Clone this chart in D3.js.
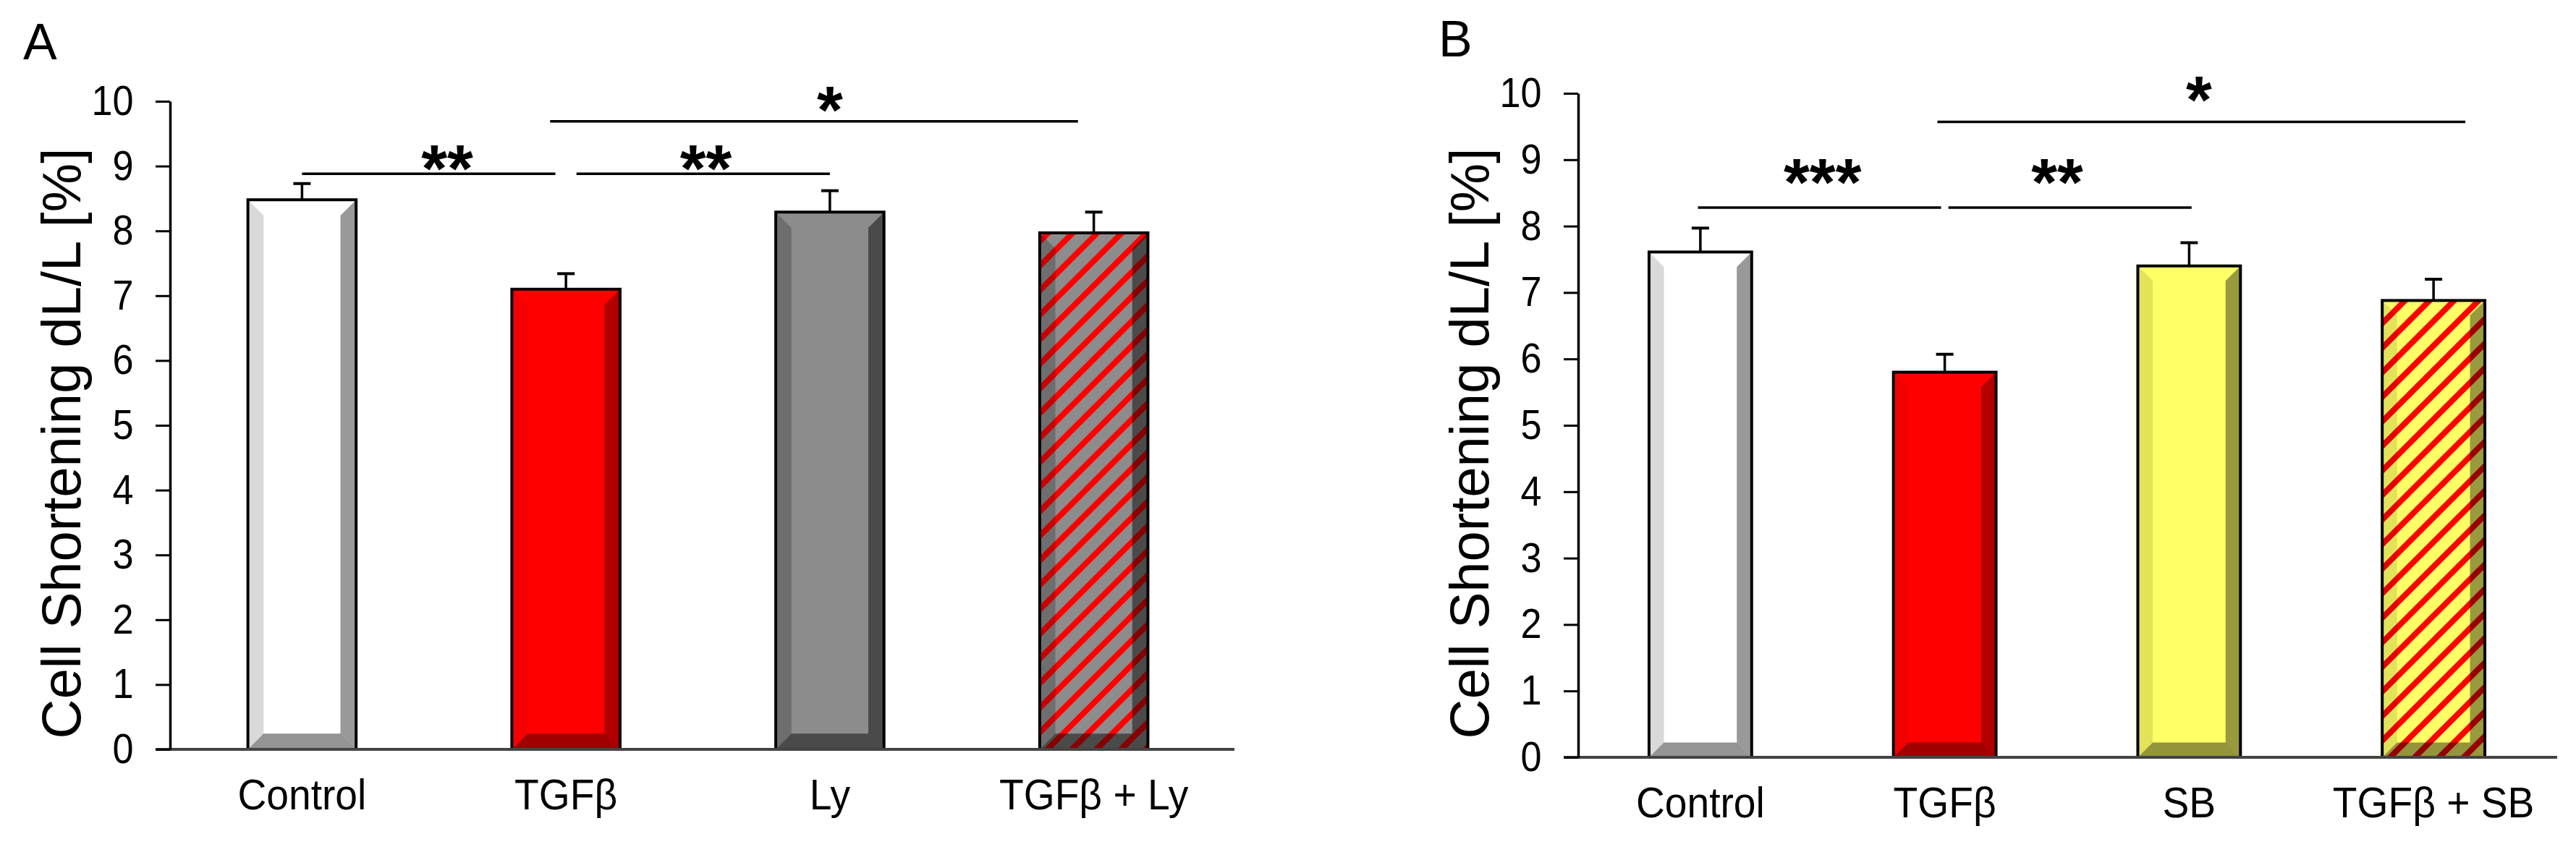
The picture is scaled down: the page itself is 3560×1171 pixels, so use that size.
<!DOCTYPE html>
<html>
<head>
<meta charset="utf-8">
<script src="https://cdn.jsdelivr.net/npm/d3@7"></script>
<style>
  body { margin: 0; background: #fff; }
  text { font-family: "Liberation Sans", Arial, sans-serif; fill: #000; }
</style>
</head>
<body>
<div id="chart"></div>
<script>
// --- data ---
const yTicks = [0, 1, 2, 3, 4, 5, 6, 7, 8, 9, 10];
const yTitle = "Cell Shortening dL/L [%]";

const categoriesA = ["Control", "TGFβ", "Ly", "TGFβ + Ly"];
const meansA = [8.48, 7.10, 8.29, 7.97];
const semA = [0.25, 0.24, 0.33, 0.32];
// comparisons: [from index, to index, line value, label, label index, label value]
const compsA = [
  [0.0, 0.96, 8.88, "**", 0.55, 9.19],
  [1.04, 2.0, 8.88, "**", 1.53, 9.19],
  [0.94, 2.94, 9.69, "*", 2.0, 10.09]
];

const categoriesB = ["Control", "TGFβ", "SB", "TGFβ + SB"];
const meansB = [7.61, 5.80, 7.40, 6.88];
const semB = [0.36, 0.27, 0.35, 0.32];
const compsB = [
  [-0.01, 0.985, 8.28, "***", 0.5, 8.88],
  [1.015, 2.01, 8.28, "**", 1.46, 8.88],
  [0.97, 3.13, 9.57, "*", 2.04, 10.13]
];

// --- bar styles ---
const facesA = ["#ffffff", "#ff0000", "#8c8c8c", "#8c8c8c"];
const hatchA = [false, false, false, true];
const facesB = ["#ffffff", "#ff0000", "#ffff66", "#ffff66"];
const hatchB = [false, false, false, true];
// black overlay opacity for left / right / bottom bevels
const bevelA = [[0.15, 0.4, 0.42], [0.04, 0.3, 0.37], [0.21, 0.47, 0.47], [0.21, 0.47, 0.47]];
const bevelB = [[0.15, 0.4, 0.42], [0.04, 0.3, 0.37], [0.11, 0.4, 0.42], [0.11, 0.4, 0.42]];

const svg = d3.select("#chart").append("svg")
  .attr("width", 3560)
  .attr("height", 1171);

const defs = svg.append("defs");
const pat = defs.append("pattern")
  .attr("id", "hatch")
  .attr("patternUnits", "userSpaceOnUse")
  .attr("width", 24)
  .attr("height", 24)
  .attr("patternTransform", "rotate(45)");
pat.append("rect")
  .attr("x", 0).attr("y", 0)
  .attr("width", 8).attr("height", 24)
  .attr("fill", "#ff0000");

function drawPanel(p) {
  const g = svg.append("g");

  const x = d3.scaleBand()
    .domain(p.categories)
    .range([p.left, p.right])
    .paddingInner(p.pad)
    .paddingOuter(p.pad / 2);
  const y = d3.scaleLinear()
    .domain([0, 10])
    .range([p.bottom, p.top]);
  const xi = i => x(p.categories[0]) + x.bandwidth() / 2 + i * x.step();

  const bars = p.categories.map((c, i) => ({
    cat: c, mean: p.means[i], sem: p.sem[i],
    face: p.faces[i], hatch: p.hatch[i], bevel: p.bevel[i]
  }));

  const bw = x.bandwidth();
  const b = bw * 0.145;

  const bg = g.selectAll(".bar").data(bars).join("g").attr("class", "bar");
  bg.append("rect")
    .attr("x", d => x(d.cat)).attr("y", d => y(d.mean))
    .attr("width", bw).attr("height", d => y(0) - y(d.mean))
    .attr("fill", d => d.face);
  bg.filter(d => d.hatch).append("rect")
    .attr("x", d => x(d.cat)).attr("y", d => y(d.mean))
    .attr("width", bw).attr("height", d => y(0) - y(d.mean))
    .attr("fill", "url(#hatch)");
  // left bevel
  bg.append("polygon")
    .attr("points", d => {
      const x0 = x(d.cat), t = y(d.mean), y1 = y(0);
      return [[x0, t], [x0 + b, t + b], [x0 + b, y1 - b], [x0, y1]].join(" ");
    })
    .attr("fill", "#000").attr("fill-opacity", d => d.bevel[0]);
  // right bevel
  bg.append("polygon")
    .attr("points", d => {
      const x1 = x(d.cat) + bw, t = y(d.mean), y1 = y(0);
      return [[x1, t], [x1 - b, t + b], [x1 - b, y1 - b], [x1, y1]].join(" ");
    })
    .attr("fill", "#000").attr("fill-opacity", d => d.bevel[1]);
  // bottom bevel
  bg.append("polygon")
    .attr("points", d => {
      const x0 = x(d.cat), x1 = x0 + bw, y1 = y(0);
      return [[x0, y1], [x0 + b, y1 - b], [x1 - b, y1 - b], [x1, y1]].join(" ");
    })
    .attr("fill", "#000").attr("fill-opacity", d => d.bevel[2]);
  bg.append("rect")
    .attr("x", d => x(d.cat)).attr("y", d => y(d.mean))
    .attr("width", bw).attr("height", d => y(0) - y(d.mean))
    .attr("fill", "none").attr("stroke", "#000").attr("stroke-width", 4);

  // error bars
  bg.append("line")
    .attr("x1", d => x(d.cat) + bw / 2).attr("x2", d => x(d.cat) + bw / 2)
    .attr("y1", d => y(d.mean)).attr("y2", d => y(d.mean + d.sem))
    .attr("stroke", "#000").attr("stroke-width", 3.5);
  bg.append("line")
    .attr("x1", d => x(d.cat) + bw / 2 - 12).attr("x2", d => x(d.cat) + bw / 2 + 12)
    .attr("y1", d => y(d.mean + d.sem)).attr("y2", d => y(d.mean + d.sem))
    .attr("stroke", "#000").attr("stroke-width", 4);

  // x axis
  const xAxis = g.append("g")
    .attr("transform", `translate(0,${p.bottom})`)
    .call(d3.axisBottom(x).tickSize(0).tickPadding(40));
  xAxis.select(".domain").remove();
  xAxis.selectAll("text")
    .attr("font-size", 60)
    .attr("font-family", "Liberation Sans, Arial, sans-serif")
    .attr("fill", "#111")
    .attr("transform", "scale(0.92,1)");
  g.append("line")
    .attr("x1", p.left - 20).attr("x2", p.right + p.axisExtra)
    .attr("y1", y(0)).attr("y2", y(0))
    .attr("stroke", "#444").attr("stroke-width", 4);

  // y axis
  const yAxis = g.append("g")
    .attr("transform", `translate(${p.left},0)`)
    .call(d3.axisLeft(y).tickValues(yTicks).tickSize(20).tickSizeOuter(0).tickPadding(36));
  yAxis.select(".domain").attr("stroke", "#000").attr("stroke-width", 3.5);
  yAxis.selectAll(".tick line").attr("stroke", "#000").attr("stroke-width", 3);
  yAxis.selectAll("text")
    .attr("font-size", 58)
    .attr("font-family", "Liberation Sans, Arial, sans-serif")
    .attr("fill", "#111")
    .attr("transform", "scale(0.9,1)");

  // y title
  g.append("text")
    .attr("transform", `translate(${p.left - 124},${(p.top + p.bottom) / 2 + 25}) rotate(-90)`)
    .attr("text-anchor", "middle")
    .attr("font-size", 76)
    .text(yTitle);

  // panel letter
  g.append("text")
    .attr("x", p.letterX).attr("y", p.letterY)
    .attr("font-size", 70)
    .text(p.letter);

  // significance brackets
  const cg = g.selectAll(".comp").data(p.comps).join("g").attr("class", "comp");
  cg.append("line")
    .attr("x1", d => xi(d[0])).attr("x2", d => xi(d[1]))
    .attr("y1", d => y(d[2])).attr("y2", d => y(d[2]))
    .attr("stroke", "#000").attr("stroke-width", 3.5);
  cg.append("text")
    .attr("x", d => xi(d[4]))
    .attr("y", d => y(d[5]) + 0.57 * 92)
    .attr("text-anchor", "middle")
    .attr("font-size", 92)
    .attr("font-weight", "bold")
    .text(d => d[3]);
}

drawPanel({
  categories: categoriesA, means: meansA, sem: semA, comps: compsA,
  faces: facesA, hatch: hatchA, bevel: bevelA,
  left: 235, right: 1694, top: 140, bottom: 1036, pad: 0.59, axisExtra: 12,
  letter: "A", letterX: 32, letterY: 82
});

drawPanel({
  categories: categoriesB, means: meansB, sem: semB, comps: compsB,
  faces: facesB, hatch: hatchB, bevel: bevelB,
  left: 2181, right: 3532, top: 129, bottom: 1047, pad: 0.58, axisExtra: 2,
  letter: "B", letterX: 1988, letterY: 78
});
</script>
</body>
</html>
